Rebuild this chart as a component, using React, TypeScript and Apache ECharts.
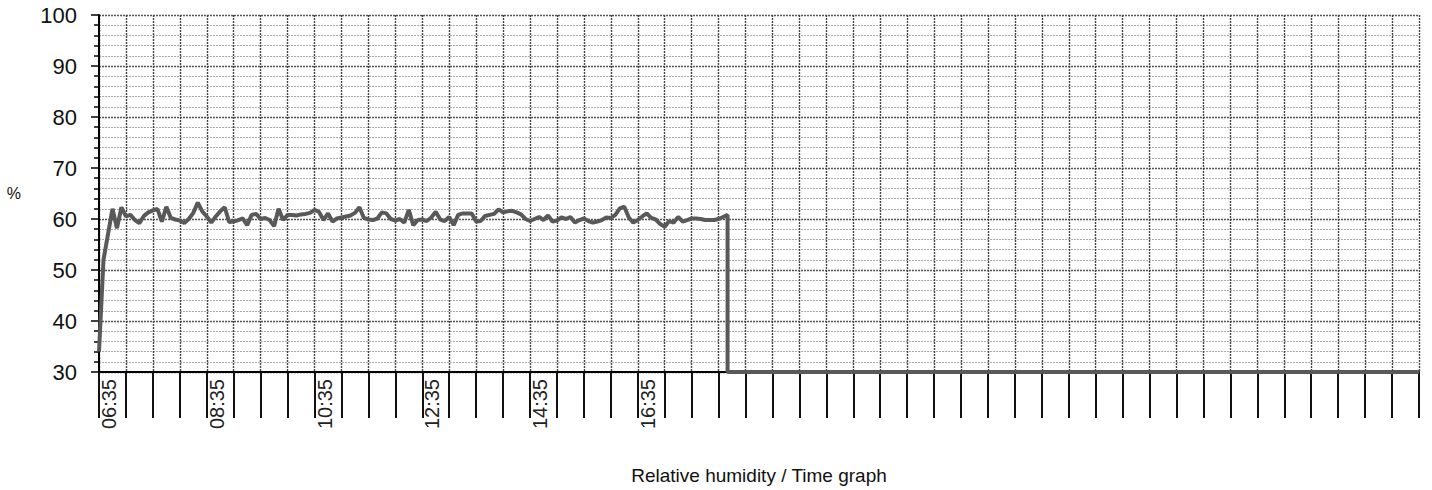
import React, { useEffect, useRef } from "react";
import * as echarts from "echarts";

// minutes elapsed since 06:35, sampled every 5 minutes
const startMinutes = 6 * 60 + 35;
const sampleStep = 5;
const humidity: number[] = [
  34, 52, 57, 62, 58.2, 62.3, 60.5, 60.8, 59.8, 59.2,
  60.6, 61.3, 61.7, 62, 59.5, 62.4, 60.2, 59.9, 59.7, 59.2,
  60, 61.2, 63.2, 61.5, 60.5, 59.3, 60.5, 61.5, 62.3, 59.4,
  59.5, 59.8, 60.1, 58.8, 60.8, 61, 60, 60.2, 59.8, 58.6,
  62, 59.8, 60.8, 60.8, 60.7, 60.9, 61, 61.2, 61.8, 61.4,
  59.8, 61.1, 59.5, 60.1, 60.3, 60.5, 60.7, 61.2, 62.3, 60.2,
  59.9, 59.8, 60.1, 61.3, 61.1, 60, 59.7, 60, 59.3, 61.8,
  58.8, 59.8, 59.9, 59.6, 60.3, 61.4, 59.9, 59.6, 60.4, 58.8,
  60.8, 61.1, 61.1, 61.1, 59.5, 59.6, 60.6, 60.8, 61, 61.9,
  61.3, 61.5, 61.6, 61.3, 60.9, 60, 59.6, 60, 60.4, 59.8,
  60.7, 59.5, 59.7, 60.3, 60, 60.4, 59.3, 59.8, 60.1, 59.6,
  59.3, 59.5, 59.8, 60.3, 60.2, 60.8, 62.1, 62.4, 60.3, 59.3,
  59.8, 60.5, 61.1, 60.2, 59.9, 59, 58.5, 59.6, 59.3, 60.4,
  59.5, 59.8, 60.1, 60.1, 60, 59.8, 59.8, 59.8, 60, 60.4,
  60.8,
];
// after logging stopped the trace drops to the axis floor
const tailTimes = [700, 1470];
const tailValues = [30, 30];

const xMax = 1470;
const xInterval = 30;
const labelEvery = 120;
const lastLabel = 600;
const yMin = 30;
const yMax = 100;
const yInterval = 10;

const fmtTime = (m: number) => {
  const t = (startMinutes + m) % (24 * 60);
  const h = Math.floor(t / 60);
  const mm = t % 60;
  return String(h).padStart(2, "0") + ":" + String(mm).padStart(2, "0");
};

export default function App() {
  const ref = useRef<HTMLDivElement>(null);
  useEffect(() => {
    if (!ref.current) return;
    const chart = echarts.init(ref.current, undefined, { renderer: "svg" });
    const data: number[][] = humidity.map((v, i) => [i * sampleStep, v]);
    tailTimes.forEach((t, i) => data.push([t, tailValues[i]]));
    chart.setOption({
      animation: false,
      backgroundColor: "#ffffff",
      textStyle: { fontFamily: "Liberation Sans" },
      grid: {
        left: 99,
        right: 13,
        top: 15,
        bottom: 118,
        containLabel: false,
        outerBoundsMode: "none",
      },
      xAxis: {
        type: "value",
        min: 0,
        max: xMax,
        interval: xInterval,
        name: "Relative humidity / Time graph",
        nameLocation: "middle",
        nameGap: 94,
        nameTextStyle: { fontSize: 19, color: "#111", fontFamily: "Liberation Sans" },
        axisLine: { show: true, lineStyle: { color: "#000", width: 2 } },
        axisTick: { show: true, length: 46, lineStyle: { color: "#111", width: 2 } },
        axisLabel: {
          rotate: 90,
          fontSize: 20,
          margin: 7,
          color: "#222",
          verticalAlign: "top",
          fontFamily: "Liberation Sans",
          showMinLabel: true,
          showMaxLabel: true,
          formatter: (v: number) =>
            v % labelEvery === 0 && v <= lastLabel ? fmtTime(v) : "",
        },
        splitLine: {
          show: true,
          lineStyle: { color: "#444", width: 1.4, type: [2, 1] },
        },
      },
      yAxis: {
        type: "value",
        min: yMin,
        max: yMax,
        interval: yInterval,
        name: "%",
        nameLocation: "middle",
        nameRotate: 0,
        nameGap: 78,
        nameTextStyle: { fontSize: 16, color: "#111", fontFamily: "Liberation Sans" },
        axisLine: { show: true, lineStyle: { color: "#000", width: 2 } },
        axisTick: { show: true, length: 8, lineStyle: { color: "#000", width: 1.5 } },
        minorTick: { show: true, splitNumber: 5, length: 5, lineStyle: { color: "#000", width: 1.5 } },
        axisLabel: { fontSize: 22, margin: 22, color: "#111", fontFamily: "Liberation Sans" },
        splitLine: {
          show: true,
          lineStyle: { color: "#555", width: 1.3, type: [2, 1] },
        },
        minorSplitLine: {
          show: true,
          lineStyle: { color: "#aaa", width: 1, type: [2, 1] },
        },
      },
      series: [
        {
          type: "line",
          data,
          showSymbol: false,
          symbol: "none",
          clip: false,
          lineStyle: { color: "#595959", width: 4 },
          z: 5,
        },
      ],
    });
    return () => chart.dispose();
  }, []);
  return (
    <div
      ref={ref}
      style={{ position: "fixed", left: 0, top: 0, width: 1432, height: 490, background: "#fff" }}
    />
  );
}
